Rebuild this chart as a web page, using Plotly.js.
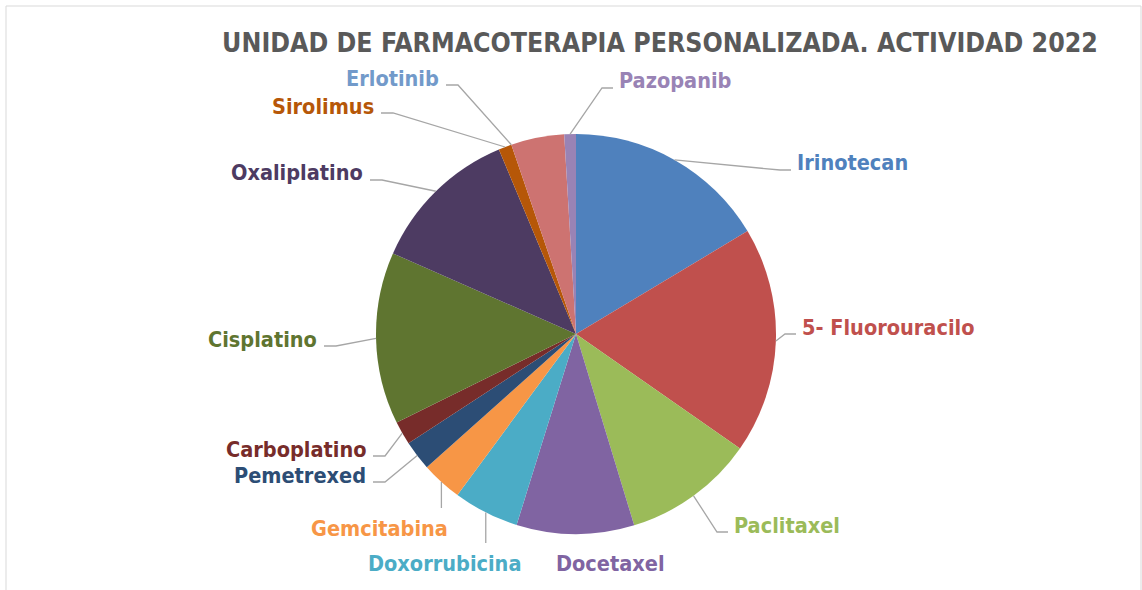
<!DOCTYPE html>
<html><head><meta charset="utf-8">
<script src="https://cdn.plot.ly/plotly-3.0.1.min.js"></script>
<style>html,body{margin:0;padding:0;background:#fff;} #chart{width:1142px;height:590px;}</style>
</head><body><div id="chart"></div>
<script>
// ---- data ----
const drugs = ['Irinotecan','5- Fluorouracilo','Paclitaxel','Docetaxel','Doxorrubicina','Gemcitabina','Pemetrexed','Carboplatino','Cisplatino','Oxaliplatino','Sirolimus','Erlotinib','Otros','Pazopanib'];
const shares = [16.4, 18.3, 10.6, 9.5, 5.3, 3.3, 2.4, 1.9, 13.9, 12.1, 1.06, 0, 4.3, 0.94];
const sliceColors = ['#4F81BD','#C0504D','#9BBB59','#8064A2','#4BACC6','#F79646','#2C4D75','#772C2A','#5F7530','#4D3B62','#B65708','#729ACA','#CD7371','#9983B5'];
const titleText = 'UNIDAD DE FARMACOTERAPIA PERSONALIZADA. ACTIVIDAD 2022';

// ---- layout (pixels) ----
const W = 1142, H = 590;
const CX = 576, CY = 334, R = 200;
// label placement: [x, y, side]; side: text relative to its leader line
const labelPlacement = {
  'Irinotecan':      [796, 163, 'left'],
  '5- Fluorouracilo':[801, 327, 'left'],
  'Paclitaxel':      [733, 525, 'left'],
  'Docetaxel':       [610, 563, 'none'],
  'Doxorrubicina':   [444, 563, 'below'],
  'Gemcitabina':     [379, 528, 'below'],
  'Pemetrexed':      [367, 475, 'right'],
  'Carboplatino':    [367, 449, 'right'],
  'Cisplatino':      [318, 339, 'right'],
  'Oxaliplatino':    [364, 173, 'right'],
  'Sirolimus':       [375, 106, 'right'],
  'Erlotinib':       [440, 78,  'right'],
  'Pazopanib':       [618, 81,  'left']
};

const FAMILY = '"Liberation Sans Narrow", "DejaVu Sans Condensed", "Open Sans", sans-serif';
function fitSize(text, target){
  const c = document.createElement('canvas').getContext('2d');
  c.font = 'bold 100px ' + FAMILY;
  return 100 * target / c.measureText(text).width;
}
const titleSize = fitSize(titleText, 876);
const labelSize = (fitSize('Irinotecan',111) + fitSize('5- Fluorouracilo',172) + fitSize('Doxorrubicina',154) + fitSize('Oxaliplatino',132)) / 4;

const px = x => x / W, py = y => 1 - y / H;

const total = shares.reduce((a,b)=>a+b,0);
let cum = 0;
const shapes = [];
const annotations = [];
drugs.forEach((d,i)=>{
  const mid = (cum + shares[i]/2) / total * 2 * Math.PI;
  cum += shares[i];
  const lp = labelPlacement[d];
  if(!lp) return;
  const ex = CX + R*Math.sin(mid), ey = CY - R*Math.cos(mid);
  const [lx, ly, side] = lp;
  let xanchor = 'center';
  let path = null;
  if(side === 'left'){
    xanchor = 'left';
    path = `M${px(lx-5)},${py(ly+7)} L${px(lx-16)},${py(ly+7)} L${px(ex)},${py(ey)}`;
  } else if(side === 'right'){
    xanchor = 'right';
    path = `M${px(lx+6)},${py(ly+7)} L${px(lx+18)},${py(ly+7)} L${px(ex)},${py(ey)}`;
  } else if(side === 'below'){
    path = `M${px(ex)},${py(ly-20)} L${px(ex)},${py(ey)}`;
  }
  if(path) shapes.push({type:'path', xref:'paper', yref:'paper', path, line:{color:'#A6A6A6', width:1.3}});
  annotations.push({xref:'paper', yref:'paper', x:px(lx), y:py(ly), xanchor, yanchor:'middle', showarrow:false,
    text:'<b>'+d+'</b>', font:{family:FAMILY, size:labelSize, color:sliceColors[i]}, borderpad:0});
});

shapes.push({type:'rect', xref:'paper', yref:'paper', x0:px(6), x1:px(1141), y0:py(600), y1:py(6), line:{color:'#D9D9D9', width:1}, layer:'below'});

const trace = {
  type:'pie', values: shares, labels: drugs, sort:false, direction:'clockwise', rotation:0,
  marker:{colors: sliceColors, line:{width:0}}, textinfo:'none', hoverinfo:'label+percent',
  domain:{x:[px(CX-R), px(CX+R)], y:[py(CY+R), py(CY-R)]}, showlegend:false
};

const layout = {
  width:W, height:H, margin:{l:0,r:0,t:0,b:0}, paper_bgcolor:'#fff', showlegend:false,
  title:{text:'<b>'+titleText+'</b>', xref:'paper', yref:'paper', x:px(660), xanchor:'center', y:py(43), yanchor:'middle',
    font:{family:FAMILY, size:titleSize, color:'#595959'}},
  shapes, annotations
};
Plotly.newPlot('chart', [trace], layout, {displayModeBar:false, staticPlot:true});
</script>
</body></html>
